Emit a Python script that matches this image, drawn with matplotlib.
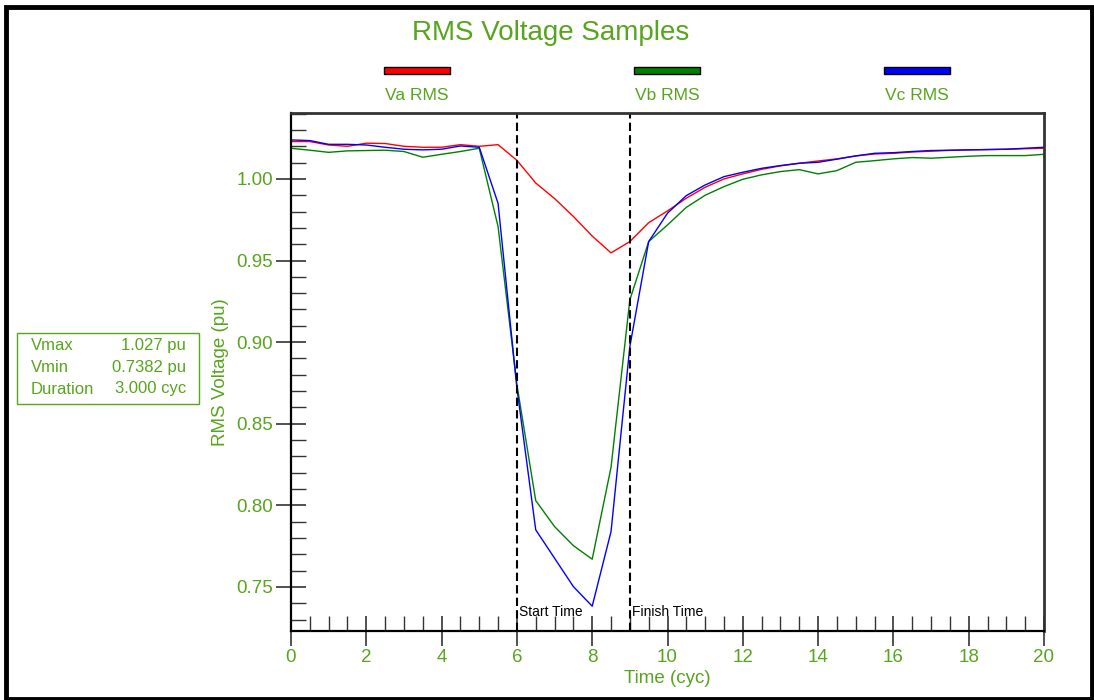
import numpy as np
import matplotlib
matplotlib.use("Agg")
from matplotlib import pyplot as plt
from matplotlib.patches import Rectangle
from matplotlib.ticker import MultipleLocator

plt.rcParams['font.family'] = ['Liberation Sans', 'DejaVu Sans']

GREEN_TXT = '#56a51d'

# samples every half cycle
t = np.arange(0, 20.01, 0.5)
va = [1.0229, 1.0229, 1.0208, 1.0200, 1.0219, 1.0217, 1.0200, 1.0194, 1.0194,
      1.0210, 1.0200, 1.0210, 1.0114, 0.9975, 0.9880, 0.9770, 0.9650, 0.9547,
      0.9616, 0.9732, 0.9804, 0.9882, 0.9949, 1.0000, 1.0031, 1.0059, 1.0080,
      1.0096, 1.0110, 1.0123, 1.0141, 1.0153, 1.0157, 1.0165, 1.0170, 1.0175,
      1.0178, 1.0180, 1.0182, 1.0185, 1.0188]
vb = [1.0188, 1.0176, 1.0163, 1.0172, 1.0174, 1.0176, 1.0168, 1.0133, 1.0151,
      1.0168, 1.0188, 0.9708, 0.8740, 0.8029, 0.7870, 0.7753, 0.7670, 0.8233,
      0.9259, 0.9616, 0.9718, 0.9826, 0.9900, 0.9953, 0.9998, 1.0025, 1.0045,
      1.0057, 1.0031, 1.0051, 1.0102, 1.0112, 1.0123, 1.0131, 1.0127, 1.0133,
      1.0139, 1.0143, 1.0143, 1.0143, 1.0151]
vc = [1.0239, 1.0235, 1.0212, 1.0212, 1.0208, 1.0194, 1.0182, 1.0178, 1.0182,
      1.0202, 1.0194, 0.9850, 0.8720, 0.7850, 0.7676, 0.7502, 0.7382, 0.7839,
      0.8973, 0.9616, 0.9790, 0.9898, 0.9963, 1.0014, 1.0041, 1.0065, 1.0082,
      1.0096, 1.0102, 1.0121, 1.0141, 1.0157, 1.0161, 1.0168, 1.0174, 1.0176,
      1.0178, 1.0180, 1.0182, 1.0188, 1.0194]
series = [('Va RMS', va, '#ff0000'), ('Vb RMS', vb, '#008000'), ('Vc RMS', vc, '#0000ff')]
start_t, finish_t = 6.0, 9.0
info = [('Vmax', '1.027 pu'), ('Vmin', '0.7382 pu'), ('Duration', '3.000 cyc')]

fig = plt.figure(figsize=(10.94, 7.00), dpi=100)
ax = fig.add_axes([291/1094, 1-631/700, (1044-291)/1094, (631-113)/700])

for name, v, c in series:
    ax.plot(t, v, color=c, lw=1.0)

ax.axvline(start_t, color='black', ls=(0, (4, 2)), lw=1.5)
ax.axvline(finish_t, color='black', ls=(0, (4, 2)), lw=1.5)
ax.text(start_t + 0.06, 0.7322, 'Start Time', fontsize=10, va='baseline', ha='left')
ax.text(finish_t + 0.06, 0.7322, 'Finish Time', fontsize=10, va='baseline', ha='left')

ax.set_xlim(0, 20)
ax.set_ylim(0.7230, 1.0404)
ax.xaxis.set_major_locator(MultipleLocator(2))
ax.xaxis.set_minor_locator(MultipleLocator(0.5))
ax.yaxis.set_major_locator(MultipleLocator(0.05))
ax.yaxis.set_minor_locator(MultipleLocator(0.01))
ax.yaxis.set_major_formatter(matplotlib.ticker.FormatStrFormatter('%.2f'))
ax.tick_params(which='major', direction='inout', length=22, width=1.2,
               color='#333333', labelcolor=GREEN_TXT, labelsize=13.5, pad=2)
ax.tick_params(which='minor', direction='in', length=11, width=1.0, color='#333333')
for s in ['left', 'bottom']:
    ax.spines[s].set_linewidth(1.6)
    ax.spines[s].set_color('black')
for s in ['top', 'right']:
    ax.spines[s].set_linewidth(2.0)
    ax.spines[s].set_color('#333333')

ax.set_xlabel('Time (cyc)', color=GREEN_TXT, fontsize=13.5, labelpad=3)
ax.set_ylabel('RMS Voltage (pu)', color=GREEN_TXT, fontsize=13.5, labelpad=5)

fig.text(551/1094, 1-33/700, 'RMS Voltage Samples', color=GREEN_TXT,
         fontsize=20, ha='center', va='center')

# legend swatches
for (name, v, c), xc in zip(series, [417, 667, 917]):
    fig.patches.append(Rectangle(((xc-33)/1094, 1-74/700), 66/1094, 7/700,
                                 transform=fig.transFigure, facecolor=c,
                                 edgecolor='black', lw=1.0))
    fig.text(xc/1094, 1-95/700, name, color=GREEN_TXT, fontsize=12.5,
             ha='center', va='center')

# info box
fig.patches.append(Rectangle((17/1094, 1-404/700), 182/1094, 71/700,
                             transform=fig.transFigure, facecolor='white',
                             edgecolor=GREEN_TXT, lw=1.0))
for i, (k, val) in enumerate(info):
    y = 1 - (346 + 21.5*i)/700
    fig.text(31/1094, y, k, color=GREEN_TXT, fontsize=12, ha='left', va='center')
    fig.text(186/1094, y, val, color=GREEN_TXT, fontsize=12, ha='right', va='center')

# outer frame
fig.patches.append(Rectangle((6/1094, 1/700), 1086/1094, 692/700,
                             transform=fig.transFigure, fill=False,
                             edgecolor='black', lw=3.5))

fig.savefig('out.png', dpi=100)
